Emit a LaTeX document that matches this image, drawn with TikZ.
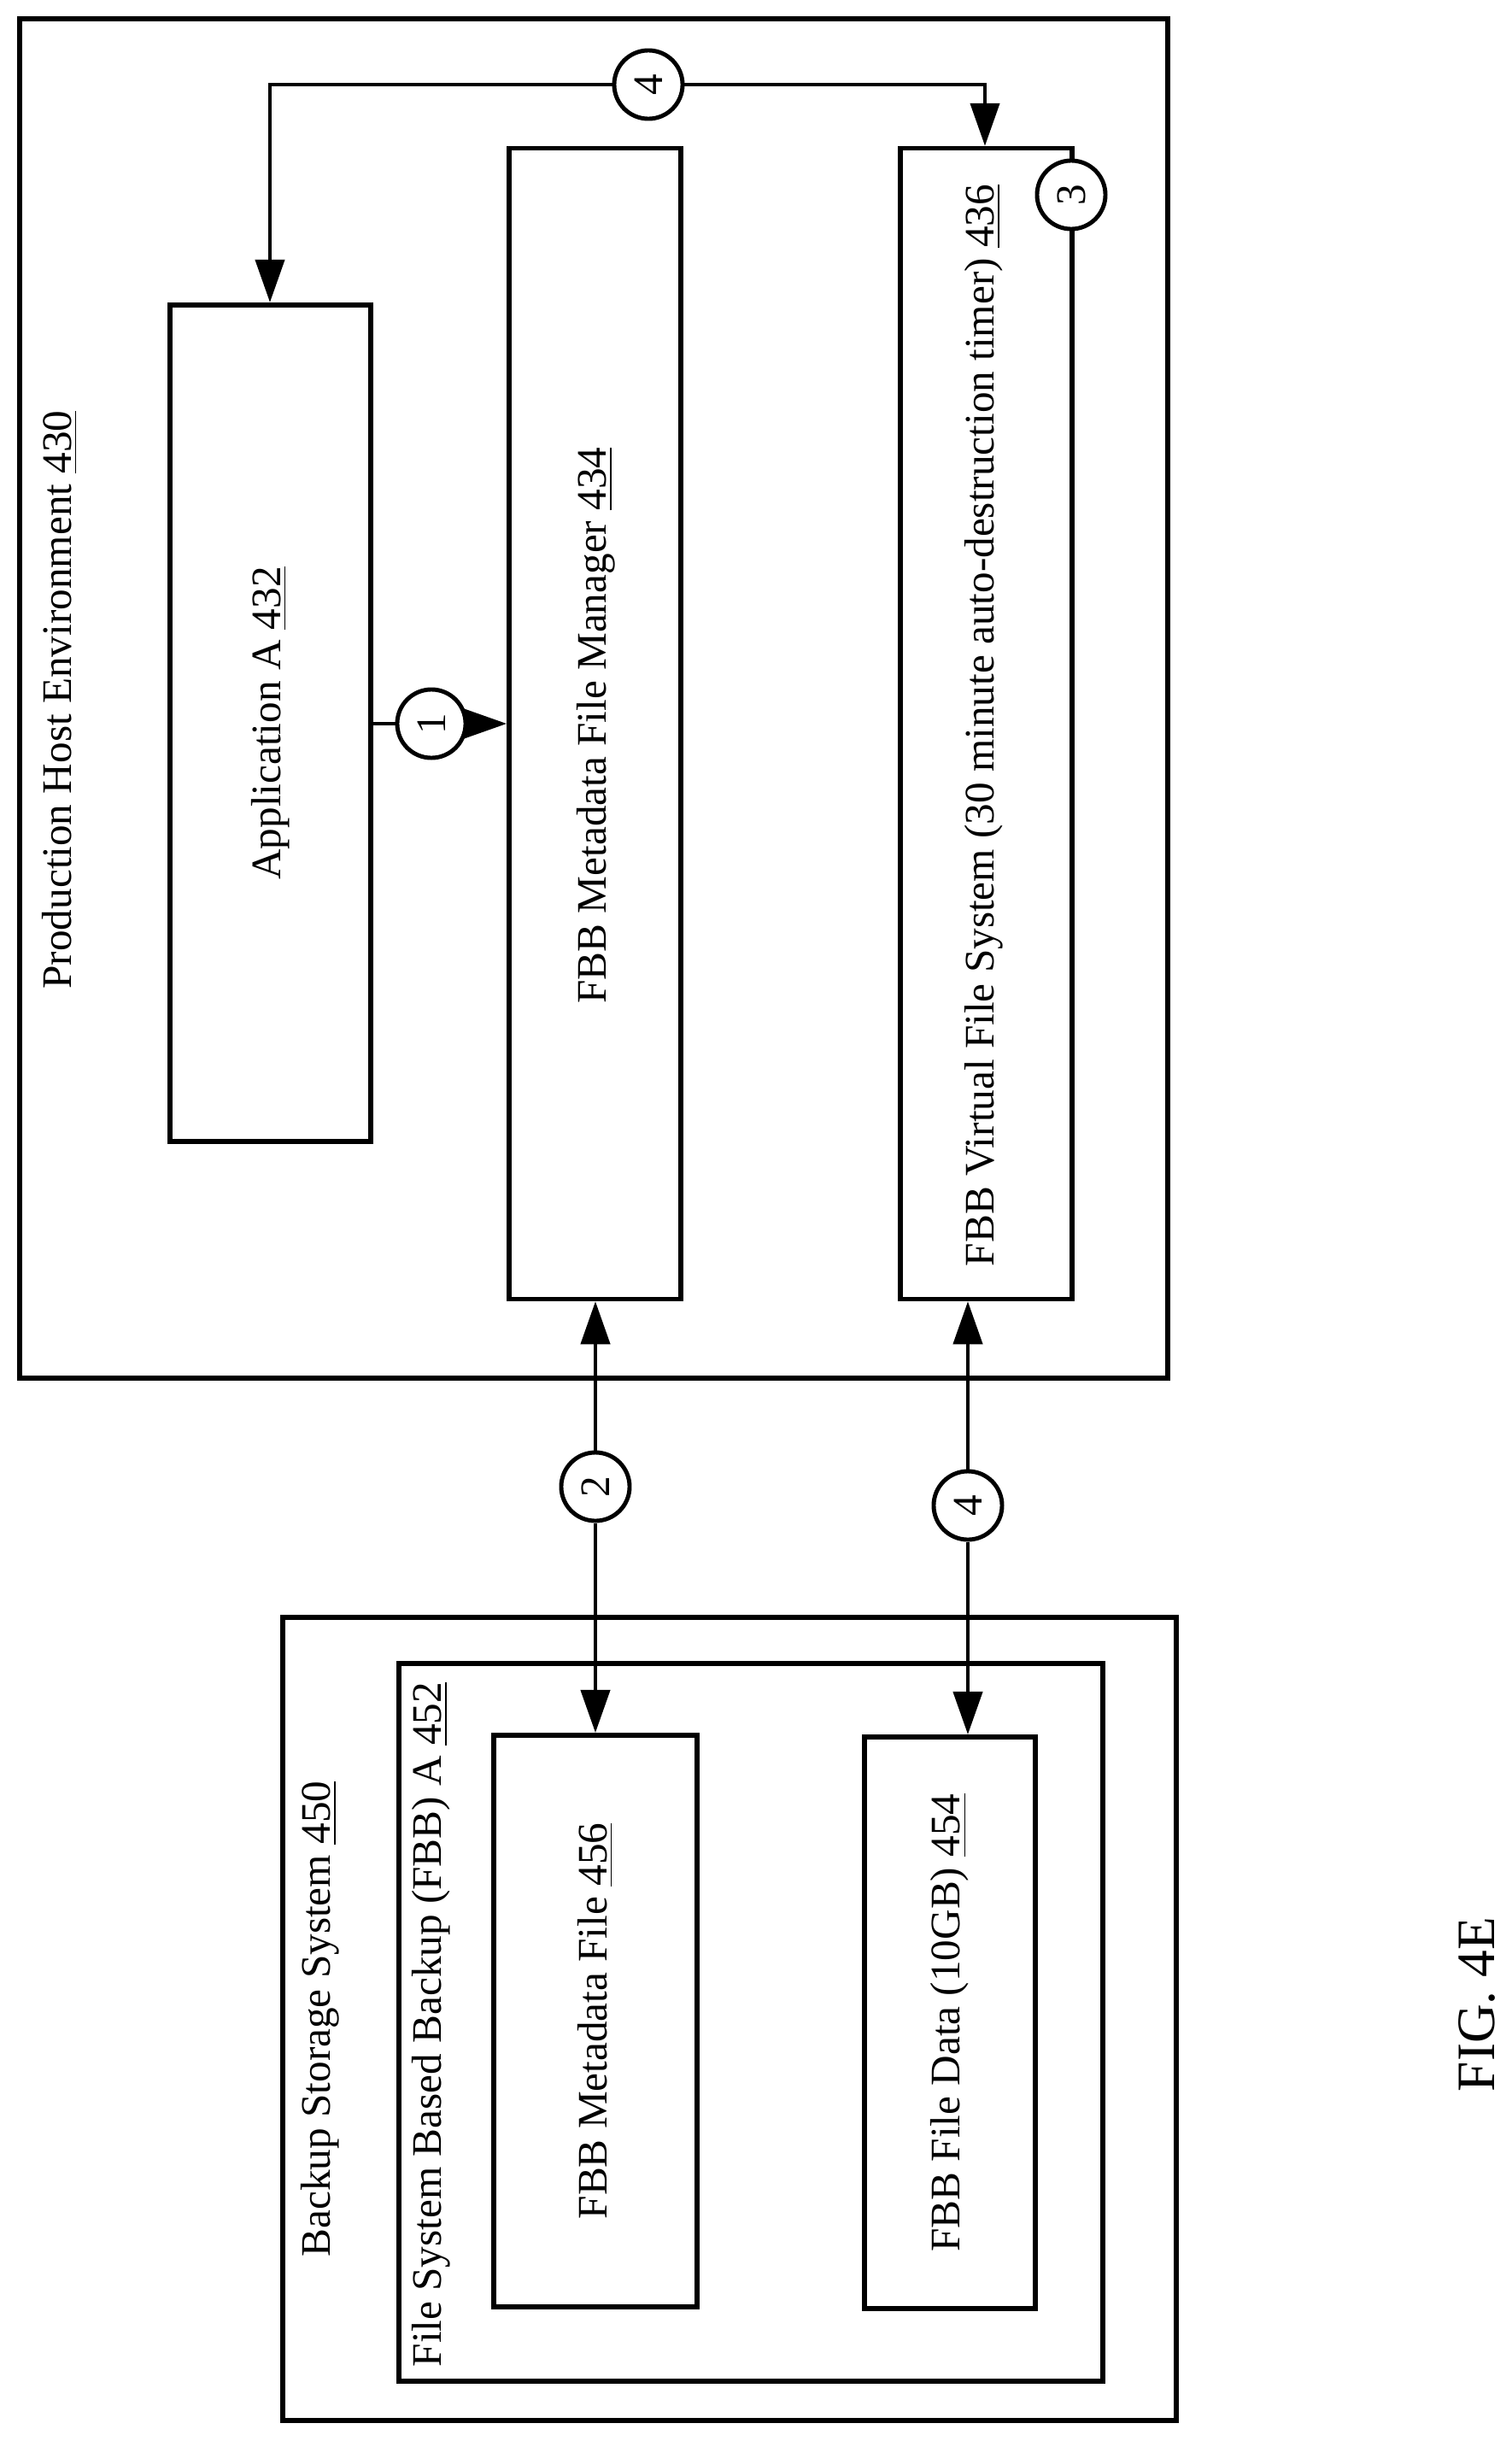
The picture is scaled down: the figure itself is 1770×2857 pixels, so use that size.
\documentclass[tikz,border=0pt]{standalone}
\usepackage{fontspec}
\setmainfont{Liberation Serif}
\usetikzlibrary{arrows.meta}
\begin{document}
\begin{tikzpicture}[x=0.01cm,y=-0.01cm,
  box/.style={draw,line width=1.6pt},
  lbl/.style={rotate=90,font=\fontsize{14}{16}\selectfont,inner sep=0pt},
  num/.style={draw,circle,line width=1.4pt,fill=white,minimum size=0.8cm,inner sep=0pt,font=\fontsize{14}{16}\selectfont},
  conn/.style={line width=1.2pt},
  arr/.style={conn,-{Triangle[length=0.5cm,width=0.34cm]}}]
\useasboundingbox (0,0) rectangle (1770,2857);
% production host
\draw[box] (23,22) rectangle (1367,1613);
\node[lbl] (prodl) at (70,819) {Production Host Environment \underline{430}};
\node[box,minimum width=2.35cm,minimum height=9.79cm] (app) at (316.5,846.5) {};
\node[lbl] at (app.center) {Application A \underline{432}};
\node[box,minimum width=2.01cm,minimum height=13.46cm] (mgr) at (696.5,847) {};
\node[lbl] at (698,849) {FBB Metadata File Manager \underline{434}};
\node[box,minimum width=2.01cm,minimum height=13.46cm] (vfs) at (1154.5,847) {};
\node[lbl] at (1152,849) {FBB Virtual File System (30 minute auto-destruction timer) \underline{436}};
\node[num,rotate=90] (c3) at (1254,228) {3};
% top arrow with 4
\coordinate (tl) at (316,99);
\coordinate (tr) at (1153,99);
\node[num,rotate=90] (c4a) at (759,99) {4};
\draw[arr] (c4a) -- (tl) -- (app.north -| tl);
\draw[arr] (c4a) -- (tr) -- (vfs.north -| tr);
% arrow 1
\node[num,rotate=90] (c1) at (505,847) {1};
\draw[conn] (app.east |- c1) -- (c1);
\draw[arr] (c1) -- (mgr.west |- c1);
% backup
\draw[box] (331,1893) rectangle (1377,2833);
\node[lbl,anchor=west] (bkl) at (375,2642) {Backup Storage System \underline{450}};
\draw[box] (467,1947) rectangle (1291,2787);
\node[lbl,anchor=west] (fbbl) at (505,2771) {File System Based Backup (FBB) A \underline{452}};
\node[box,minimum width=2.38cm,minimum height=6.69cm] (mf) at (697,2365.5) {};
\node[lbl] at (mf.center) {FBB Metadata File \underline{456}};
\node[box,minimum width=2.0cm,minimum height=6.69cm] (fd) at (1112,2367.5) {};
\node[lbl] at (fd.center) {FBB File Data (10GB) \underline{454}};
% vertical arrows
\node[num,rotate=90] (c2) at (697,1740) {2};
\node[num,rotate=90] (c4b) at (1133,1762) {4};
\draw[arr] (c2) -- (mgr.south -| c2);
\draw[arr] (c2) -- (mf.north -| c2);
\draw[arr] (c4b) -- (vfs.south -| c4b);
\draw[arr] (c4b) -- (fd.north -| c4b);
\node[rotate=90,font=\fontsize{18}{20}\selectfont] (fig) at (1729,2346) {FIG. 4E};
\end{tikzpicture}
\end{document}
